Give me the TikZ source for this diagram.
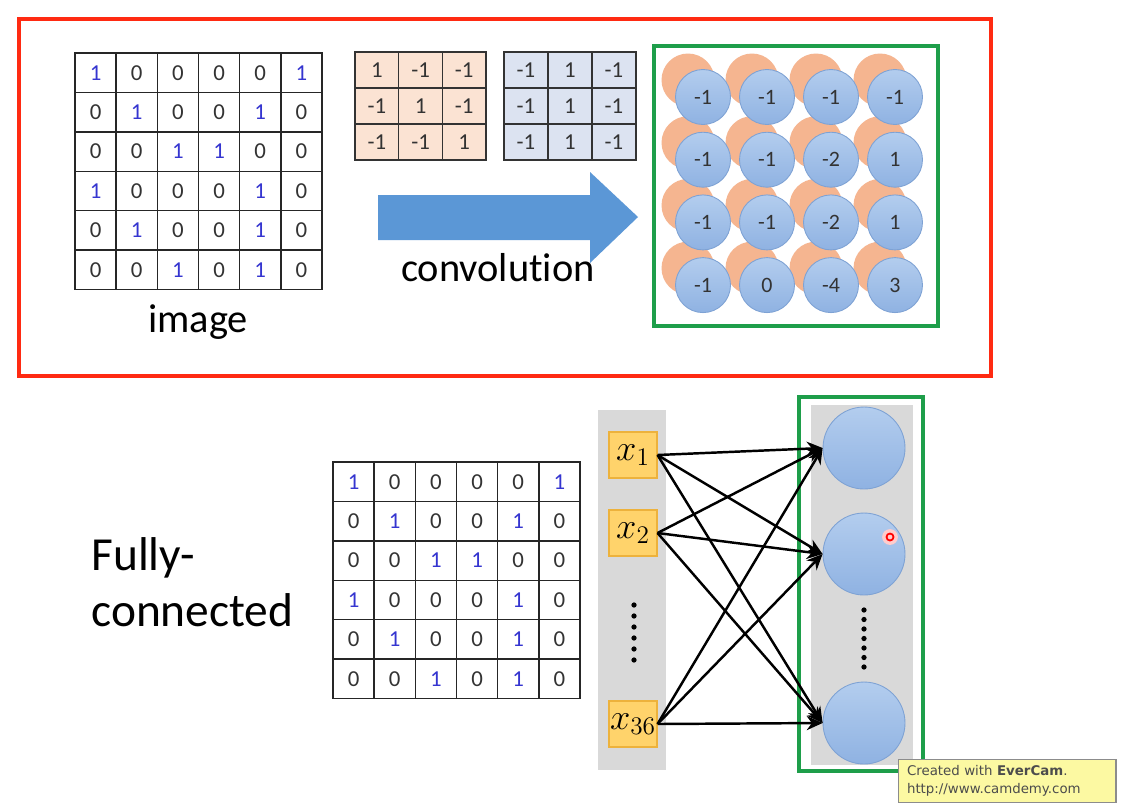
\documentclass[tikz,border=0pt]{standalone}
\usepackage{fontspec}
\setmainfont{Carlito}[Ligatures=NoCommon]
\newfontfamily\notefont{DejaVu Sans}
\usetikzlibrary{positioning,arrows.meta}
\definecolor{FrameRed}{HTML}{FF2A12}
\definecolor{FrameGreen}{HTML}{1E9E4A}
\definecolor{OneBlue}{HTML}{3535D0}
\definecolor{FilterOrange}{HTML}{FBE3D3}
\definecolor{FilterBlue}{HTML}{DCE3F1}
\definecolor{ArrowBlue}{HTML}{5B97D6}
\definecolor{NeuronTop}{HTML}{B3CDEE}
\definecolor{NeuronBottom}{HTML}{8FB2E2}
\definecolor{NeuronEdge}{HTML}{7EA2D4}
\definecolor{NeuronOrange}{HTML}{F5B590}
\definecolor{LayerGray}{HTML}{D9D9D9}
\definecolor{InputGold}{HTML}{FFD36B}
\definecolor{InputEdge}{HTML}{EDB23C}
\definecolor{NoteYellow}{HTML}{FCF9A2}
\tikzset{
  pixel cell/.style={draw=black!85,line width=.8pt,minimum width=.823cm,
    minimum height=.788cm,inner sep=0pt,font=\fontsize{13}{15}\selectfont,text=black!80},
  filter cell/.style={draw=black!80,line width=.8pt,minimum width=.874cm,
    minimum height=.72cm,inner sep=0pt,font=\fontsize{13}{15}\selectfont,text=black!80},
  orange neuron/.style={circle,fill=NeuronOrange,minimum size=1.06cm,inner sep=0pt},
  blue neuron/.style={circle,draw=NeuronEdge,line width=.5pt,top color=NeuronTop,
    bottom color=NeuronBottom,minimum size=1.1cm,inner sep=0pt,
    font=\fontsize{12.5}{14}\selectfont,text=black!80},
  output neuron/.style={circle,draw=NeuronEdge,line width=.5pt,top color=NeuronTop,
    bottom color=NeuronBottom,minimum size=1.64cm,inner sep=0pt},
  input box/.style={draw=InputEdge,fill=InputGold,line width=.6pt,minimum width=.96cm,
    minimum height=.92cm,inner sep=0pt,font=\fontsize{20}{22}\selectfont},
  caption/.style={font=\fontsize{23}{27}\selectfont,inner sep=0pt},
  red frame/.style={draw=FrameRed,line width=2.8pt},
  green frame/.style={draw=FrameGreen,line width=2.8pt},
  fc arrow/.style={-{Stealth[length=9pt,width=8pt]},line width=1.4pt,draw=black},
  note box/.style={draw=black!45,fill=NoteYellow,line width=.6pt,text width=4.0cm,
    inner xsep=.18cm,minimum height=.84cm,align=left,text=black!70,
    font=\notefont\fontsize{7.6}{10}\selectfont}
}
\begin{document}
\begin{tikzpicture}[x=0.02cm,y=-0.02cm]
  \useasboundingbox (0,0) rectangle (1124,809);
  \fill[white] (0,0) rectangle (1124,809);
  % convolution part
  \draw[red frame] (19,19) rectangle (991,376);
  \foreach \gname/\gx/\gy in {img/75/53,fcimg/333/462} {
    \foreach \rowvals [count=\r] in {{1,0,0,0,0,1},{0,1,0,0,1,0},{0,0,1,1,0,0},
        {1,0,0,0,1,0},{0,1,0,0,1,0},{0,0,1,0,1,0}} {
      \foreach \v [count=\c] in \rowvals {
        \node[pixel cell] (\gname-\r-\c) at ({\gx+41.17*(\c-0.5)},{\gy+39.4*(\r-0.5)})
          {\ifnum\v=1 \color{OneBlue}\fi\v};
      }
    }
  }
  \node[caption] (imglabel) at (198,322) {image};
  \foreach \rowvals [count=\r] in {{1,-1,-1},{-1,1,-1},{-1,-1,1}} {
    \foreach \v [count=\c] in \rowvals {
      \node[filter cell,fill=FilterOrange] (fa-\r-\c) at ({355+43.7*(\c-0.5)},{52+36*(\r-0.5)}) {\v};
    }
  }
  \foreach \rowvals [count=\r] in {{-1,1,-1},{-1,1,-1},{-1,1,-1}} {
    \foreach \v [count=\c] in \rowvals {
      \node[filter cell,fill=FilterBlue] (fb-\r-\c) at ({504+44*(\c-0.5)},{52+36*(\r-0.5)}) {\v};
    }
  }
  \fill[ArrowBlue] (378,195) -- (590,195) -- (590,172) -- (638,217) -- (590,263)
    -- (590,240) -- (378,240) -- cycle;
  \node[caption] (convlabel) at (498,268) {convolution};
  \draw[green frame] (654,46) rectangle (938,326);
  \foreach \r in {1,...,4} {
    \foreach \c in {1,...,4} {
      \node[orange neuron] (fmo-\r-\c) at ({688+64*(\c-1)},{80+62.7*(\r-1)}) {};
    }
  }
  \foreach \rowvals [count=\r] in {{-1,-1,-1,-1},{-1,-1,-2,1},{-1,-1,-2,1},{-1,0,-4,3}} {
    \foreach \v [count=\c] in \rowvals {
      \node[blue neuron] (fmb-\r-\c) at ({703+64*(\c-1)},{97+62.7*(\r-1)}) {\v};
    }
  }
  % fully connected part
  \node[font=\fontsize{27}{32}\selectfont,inner sep=0pt,anchor=west,align=left]
    (fclabel) at (91,582) {Fully-\\connected};
  \fill[LayerGray] (598,410) rectangle (666,770);
  \fill[LayerGray] (811,405) rectangle (913,765);
  \draw[green frame] (799,397) rectangle (923,771);
  \node[input box] (in1) at (633,455) {$x_1$};
  \node[input box] (in2) at (633,533) {$x_2$};
  \node[input box] (in36) at (633,724) {$x_{36}$};
  \node[output neuron] (out1) at (864,448) {};
  \node[output neuron] (out2) at (864,554) {};
  \node[output neuron] (out3) at (864,723) {};
  \foreach \src in {in1,in2,in36} {
    \foreach \dst in {out1,out2,out3} {
      \draw[fc arrow] (\src.east) -- (\dst.west);
    }
  }
  \foreach \k in {0,...,5} \fill (634,{605+11*\k}) circle (1.5pt);
  \foreach \k in {0,...,6} \fill (864,{610+9.5*\k}) circle (1.5pt);
  \fill[red!20] (890,537) circle (4.5pt);
  \draw[red,line width=1pt] (890,537) circle (2pt);
  \node[note box] (note) at (1007,781) {Created with \textbf{EverCam}.\\http://www.camdemy.com};
\end{tikzpicture}
\end{document}
